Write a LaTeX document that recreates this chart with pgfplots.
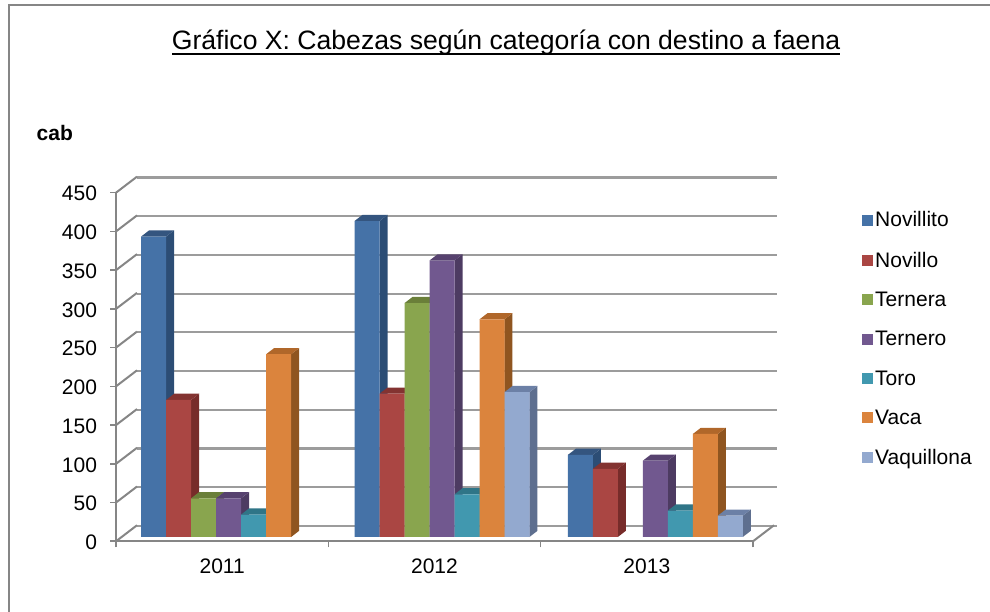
\documentclass[border=0pt]{standalone}
\usepackage{pgfplots}
\pgfplotsset{compat=1.18}
\usepackage{fontspec}
\setmainfont{Liberation Sans}
\definecolor{cA}{HTML}{4572A7}\definecolor{cAs}{HTML}{2C4D75}\definecolor{cAt}{HTML}{34557F}
\definecolor{cB}{HTML}{AA4643}\definecolor{cBs}{HTML}{772C2A}\definecolor{cBt}{HTML}{833331}
\definecolor{cC}{HTML}{89A54E}\definecolor{cCs}{HTML}{5F7530}\definecolor{cCt}{HTML}{6A7F39}
\definecolor{cD}{HTML}{71588F}\definecolor{cDs}{HTML}{4D3B62}\definecolor{cDt}{HTML}{57426F}
\definecolor{cE}{HTML}{4198AF}\definecolor{cEs}{HTML}{276A7C}\definecolor{cEt}{HTML}{2F7587}
\definecolor{cF}{HTML}{DB843D}\definecolor{cFs}{HTML}{8F5520}\definecolor{cFt}{HTML}{B0672A}
\definecolor{cG}{HTML}{93A9CF}\definecolor{cGs}{HTML}{5E6F8F}\definecolor{cGt}{HTML}{6C80A6}
\definecolor{axl}{HTML}{868686}
\definecolor{grd}{HTML}{9C9C9C}
\newcommand\fs[1]{\fontsize{#1}{#1}\selectfont}
% side and top faces of one bar: group centre, series index (0-6), value, letter of colour
\newcommand\faces[4]{%
  \pgfmathsetmacro\xr{#1+(#2-3+0.5)*25/213.4}%
  \pgfmathsetmacro\xl{\xr-25/213.4}%
  \pgfmathsetmacro\xrd{\xr+0.0375}%
  \pgfmathsetmacro\xld{\xl+0.0375}%
  \pgfmathsetmacro\vd{#3+8.0}%
  \addplot[forget plot,draw=none,fill=c#4s] coordinates {(\xr,0)(\xrd,8.0)(\xrd,\vd)(\xr,#3)} -- cycle;
  \addplot[forget plot,draw=none,fill=c#4t] coordinates {(\xl,#3)(\xr,#3)(\xrd,\vd)(\xld,\vd)} -- cycle;
}
\pgfplotsset{
  base/.style={scale only axis,xmin=0,xmax=3,ymin=0,ymax=450,clip=false,
    /pgf/number format/assume math mode=true},
}
\begin{document}
\begin{tikzpicture}[x=1pt,y=1pt]
\useasboundingbox (0,0) rectangle (990,612);
\draw[axl,line width=1.5pt] (9,0) -- (9,607) -- (990,607);
\node[anchor=base,inner sep=0pt] at (506,562) {\fs{26.6}Gráfico X: Cabezas según categoría con destino a faena};
\draw[black,line width=1.8pt] (172,558.3) -- (840,558.3);
\node[anchor=base west,inner sep=0pt] at (36.5,471) {\fs{21}\bfseries cab};

% back wall
\begin{axis}[base,name=wall,at={(137pt,86pt)},anchor=origin,width=640pt,height=348.5pt,
  axis line style={draw=none},xtick=\empty,ytick={0,50,...,450},yticklabels={},
  major tick length=0pt,ymajorgrids,grid style={grd,line width=2.2pt},xmax=3]
\end{axis}

% front plane
\begin{axis}[base,at={(116pt,70.7pt)},anchor=origin,width=637pt,height=348.6pt,
  axis x line=bottom,axis y line=left,axis line style={axl,line width=2.2pt,-},
  xtick={0,1,2,3},xticklabels={},
  extra x ticks={0.5,1.5,2.5},extra x tick labels={2011,2012,2013},
  extra x tick style={major tick length=0pt,tick label style={yshift=-14pt}},
  ytick={0,50,...,450},
  tick style={axl,line width=1.6pt},major tick length=6pt,tick align=outside,
  tick label style={font=\fs{21},black},
  yticklabel style={xshift=-9.5pt,yshift=-1pt}]
\pgfplotsinvokeforeach{0,50,100,150,200,250,300,350,400,450}{
  \addplot[axl,line width=2pt] coordinates {(0,#1)(0.0989,#1+20.7)};
}
\addplot[axl,line width=2pt] coordinates {(3,0)(3.0989,20.7)};
\end{axis}

% bars
\begin{axis}[base,hide axis,at={(122pt,75pt)},anchor=origin,width=640pt,height=348.5pt,
  legend style={at={(740pt,327.5pt)},anchor=north west,draw=none,fill=none,font=\fs{21},
    row sep=19.4pt,inner sep=0pt,/tikz/every even column/.style={column sep=5pt}},
  legend cell align=left,
  legend image code/.code={\fill[#1] (0pt,-5.5pt) rectangle (11pt,5.5pt);},
  every axis plot/.append style={draw=none}]
\faces{0.5}{0}{388}{A}\faces{1.5}{0}{408}{A}\faces{2.5}{0}{106}{A}
\addplot[ybar,bar width=25pt,bar shift=-75pt,fill=cA] coordinates {(0.5,388)(1.5,408)(2.5,106)};
\addlegendentry{Novillito}
\faces{0.5}{1}{177}{B}\faces{1.5}{1}{185}{B}\faces{2.5}{1}{88}{B}
\addplot[ybar,bar width=25pt,bar shift=-50pt,fill=cB] coordinates {(0.5,177)(1.5,185)(2.5,88)};
\addlegendentry{Novillo}
\faces{0.5}{2}{50}{C}\faces{1.5}{2}{302}{C}
\addplot[ybar,bar width=25pt,bar shift=-25pt,fill=cC] coordinates {(0.5,50)(1.5,302)};
\addlegendentry{Ternera}
\faces{0.5}{3}{50}{D}\faces{1.5}{3}{357}{D}\faces{2.5}{3}{98.5}{D}
\addplot[ybar,bar width=25pt,bar shift=0pt,fill=cD] coordinates {(0.5,50)(1.5,357)(2.5,98.5)};
\addlegendentry{Ternero}
\faces{0.5}{4}{29}{E}\faces{1.5}{4}{55}{E}\faces{2.5}{4}{34}{E}
\addplot[ybar,bar width=25pt,bar shift=25pt,fill=cE] coordinates {(0.5,29)(1.5,55)(2.5,34)};
\addlegendentry{Toro}
\faces{0.5}{5}{236}{F}\faces{1.5}{5}{281}{F}\faces{2.5}{5}{133}{F}
\addplot[ybar,bar width=25pt,bar shift=50pt,fill=cF] coordinates {(0.5,236)(1.5,281)(2.5,133)};
\addlegendentry{Vaca}
\faces{1.5}{6}{187}{G}\faces{2.5}{6}{27.5}{G}
\addplot[ybar,bar width=25pt,bar shift=75pt,fill=cG] coordinates {(1.5,187)(2.5,27.5)};
\addlegendentry{Vaquillona}
\end{axis}
\end{tikzpicture}
\end{document}
